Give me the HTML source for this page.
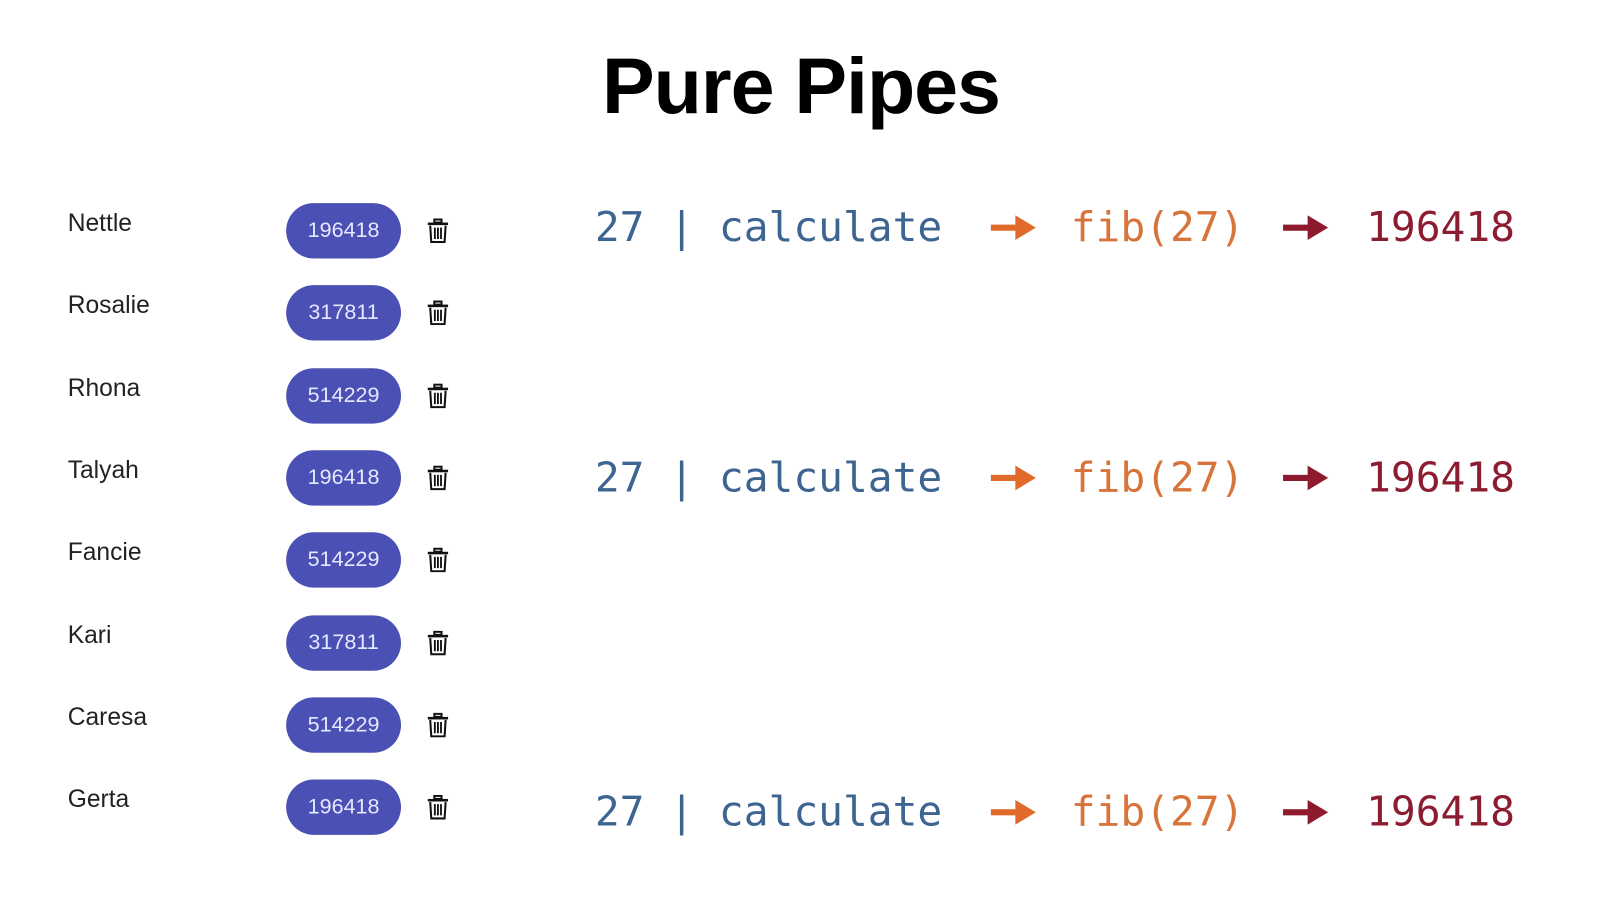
<!DOCTYPE html>
<html><head><style>
body{margin:0;width:1600px;height:900px;background:#fff;position:relative;overflow:hidden;font-family:"Liberation Sans",sans-serif}
#w{position:absolute;left:0;top:0;width:1560px;height:878px;transform:scale(1.0256);transform-origin:0 0}
.t{position:absolute;left:0;width:1562px;text-align:center;top:40px;font-size:77px;font-weight:bold;color:#000;letter-spacing:-1px}
.n{position:absolute;left:66px;font-size:24px;color:#222}
.p{position:absolute;left:279px;width:112px;height:54px;border-radius:27px;background:#4a50b4;color:#e6e8ff;font-size:21px;line-height:54px;text-align:center}
.tr{position:absolute;left:417px;width:20px;height:24px}
.c{position:absolute;font-family:"DejaVu Sans Mono",monospace;font-size:40.2px;line-height:1;white-space:pre}
</style></head><body>
<div id="w">
<div class="t">Pure Pipes</div>
<div id="list"></div>
</div>
<script>
var names=["Nettle","Rosalie","Rhona","Talyah","Fancie","Kari","Caresa","Gerta"];
var vals=["196418","317811","514229","196418","514229","317811","514229","196418"];
var h="";
for(var i=0;i<8;i++){var y=225+80.3*i;
h+='<div class="n" style="top:'+(y-21)+'px">'+names[i]+'</div>';
h+='<div class="p" style="top:'+(y-27)+'px">'+vals[i]+'</div>';
h+='<svg class="tr" style="top:'+(y-12)+'px" viewBox="0 0 20 24"><rect x="6.5" y="1" width="7" height="3" fill="none" stroke="#111" stroke-width="2"/><rect x="0" y="4" width="20" height="2.5" fill="#111"/><path d="M2.5 7 L3.5 23 H16.5 L17.5 7" fill="none" stroke="#111" stroke-width="2"/><path d="M7 9V20M10 9V20M13 9V20" stroke="#111" stroke-width="1.8"/></svg>';}
var rows=[222,466,792];
rows.forEach(function(y){
h+='<div class="c" style="left:580px;top:'+(y-20)+'px;color:#3e6591">27 | calculate</div>';
h+='<div class="c" style="left:1044px;top:'+(y-20)+'px;color:#d8743a">fib(27)</div>';
h+='<div class="c" style="left:1332px;top:'+(y-20)+'px;color:#8c1c30">196418</div>';
h+='<svg style="position:absolute;left:966px;top:'+(y-13)+'px" width="44" height="26"><rect x="0" y="10" width="26" height="6" fill="#e06a2a"/><polygon points="24,1 44,13 24,25" fill="#e06a2a"/></svg>';
h+='<svg style="position:absolute;left:1251px;top:'+(y-13)+'px" width="44" height="26"><rect x="0" y="10" width="26" height="6" fill="#8e1a2e"/><polygon points="24,1 44,13 24,25" fill="#8e1a2e"/></svg>';
});
document.getElementById("list").innerHTML=h;
</script>
</body></html>
